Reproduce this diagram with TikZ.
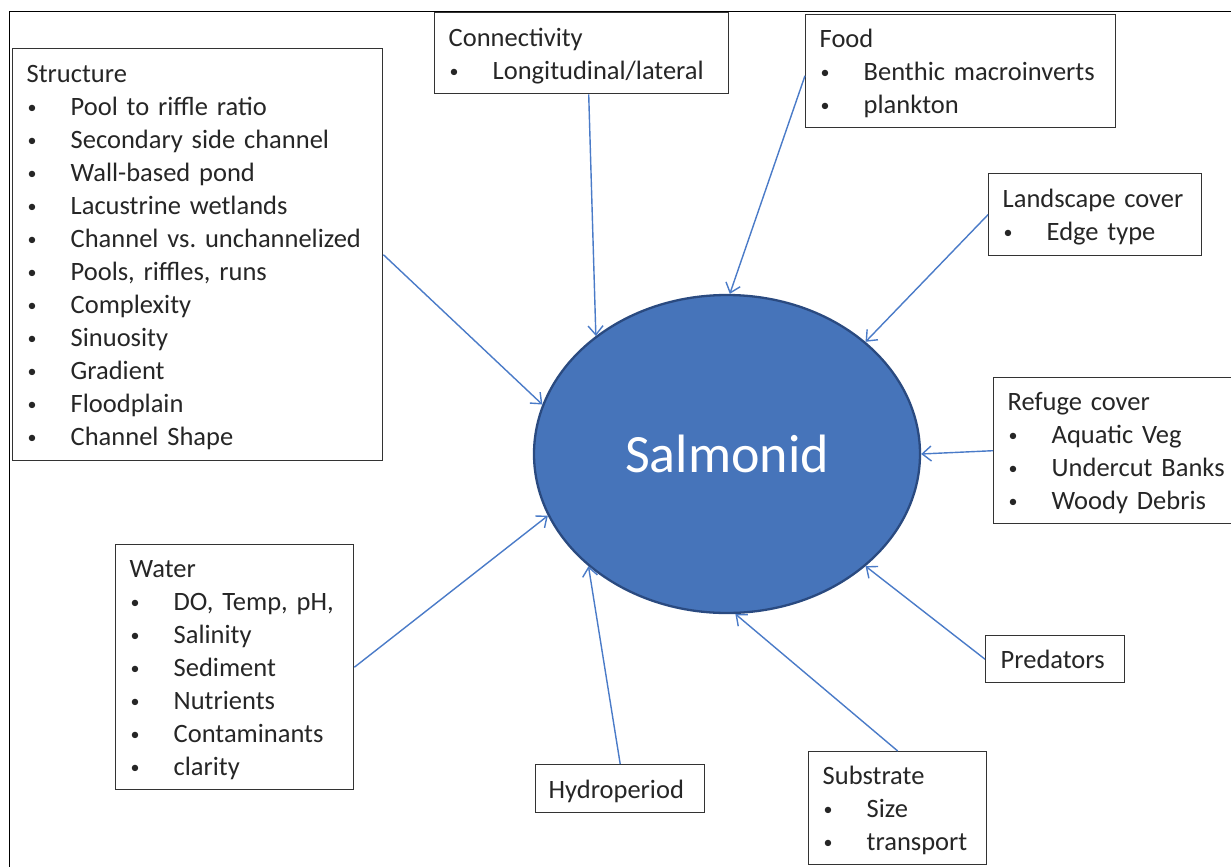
\documentclass[tikz,border=0pt]{standalone}
\usepackage{fontspec}
\setmainfont{Carlito}
\usetikzlibrary{arrows.meta,shapes.geometric}
\definecolor{txt}{HTML}{262626}
\definecolor{lineblue}{HTML}{4A7BC8}
\definecolor{ellfill}{HTML}{4674BA}
\definecolor{elldraw}{HTML}{2A4A80}
\frenchspacing
\newcommand{\hd}{\rule{0pt}{26pt}}
\newcommand{\ft}{\rule[-7pt]{0pt}{7pt}}
\newcommand{\smbullet}{\raisebox{2pt}{\fontsize{18}{18}\selectfont •}}
\newcommand{\bitem}[1]{\\\hspace*{1pt}\makebox[43pt][l]{\smbullet}\mbox{#1}}
\tikzset{
  box/.style={draw=black!80, line width=1.4pt, anchor=north west, align=left,
    inner xsep=14pt, inner ysep=0pt, font=\fontsize{26.5}{33}\selectfont, text=txt},
  link/.style={draw=lineblue, line width=1.4pt, -{Straight Barb[length=9pt,width=15pt]}},
  frameline/.style={draw=black, line width=1pt}
}
\begin{document}
\begin{tikzpicture}[x=1pt,y=-1pt]
\clip (0,0) rectangle (1231,867);
\fill[white] (0,0) rectangle (1231,867);
\draw[frameline] (9,870) -- (9,12) -- (1235,12);

\node[ellipse, draw=elldraw, line width=2.3pt, fill=ellfill, minimum width=386pt, minimum height=318pt,
      text=white, font=\fontsize{54}{60}\selectfont] (sal) at (727,454) {Salmonid};

\node[box, minimum width=370pt, minimum height=412pt, text width=342pt] (struct) at (12,48)
 {\hd Structure\bitem{Pool to riffle ratio}\bitem{Secondary side channel}\bitem{Wall-based pond}\bitem{Lacustrine wetlands}\bitem{Channel vs. unchannelized}\bitem{Pools, riffles, runs}\bitem{Complexity}\bitem{Sinuosity}\bitem{Gradient}\bitem{Floodplain}\bitem{Channel Shape}\ft};

\node[box, minimum width=294pt, minimum height=81pt, text width=266pt] (conn) at (434,12)
 {\hd Connectivity\bitem{Longitudinal/lateral}\ft};

\node[box, minimum width=310pt, minimum height=113pt, text width=282pt] (food) at (805,14)
 {\hd Food\bitem{Benthic macroinverts}\bitem{plankton}\ft};

\node[box, minimum width=213pt, minimum height=82pt, text width=185pt] (land) at (988,173)
 {\hd Landscape cover\bitem{Edge type}\ft};

\node[box, minimum width=260pt, minimum height=146pt, text width=232pt] (refuge) at (993,377)
 {\hd Refuge cover\bitem{Aquatic Veg}\bitem{Undercut Banks}\bitem{Woody Debris}\ft};

\node[box, minimum width=238pt, minimum height=245pt, text width=210pt] (water) at (115,544)
 {\hd Water\bitem{DO, Temp, pH,}\bitem{Salinity}\bitem{Sediment}\bitem{Nutrients}\bitem{Contaminants}\bitem{clarity}\ft};

\node[box, minimum width=169pt, minimum height=48pt, text width=143pt, inner xsep=13pt] (hydro) at (535,764)
 {\hd Hydroperiod\ft};

\node[box, minimum width=178pt, minimum height=113pt, text width=150pt] (subst) at (808,751)
 {\hd Substrate\bitem{Size}\bitem{transport}\ft};

\node[box, minimum width=137pt, minimum height=47pt, text width=109pt, inner xsep=15pt] (pred) at (985,635)
 {\hd Predators\ft};

\draw[link] (struct.east) -- (sal.165.8);
\draw[link] ([xshift=7pt]conn.south) -- (sal.138.9);
\draw[link] ([yshift=-4.5pt]food.west) -- (sal.89.6);
\draw[link] (land.west) -- (sal.39.8);
\draw[link] (refuge.west) -- (sal.0.6);
\draw[link] (pred.west) -- (sal.-39.1);
\draw[link] (subst.north) -- (sal.-87.8);
\draw[link] (hydro.north) -- (sal.219.7);
\draw[link] (water.east) -- (sal.199.1);
\end{tikzpicture}
\end{document}
